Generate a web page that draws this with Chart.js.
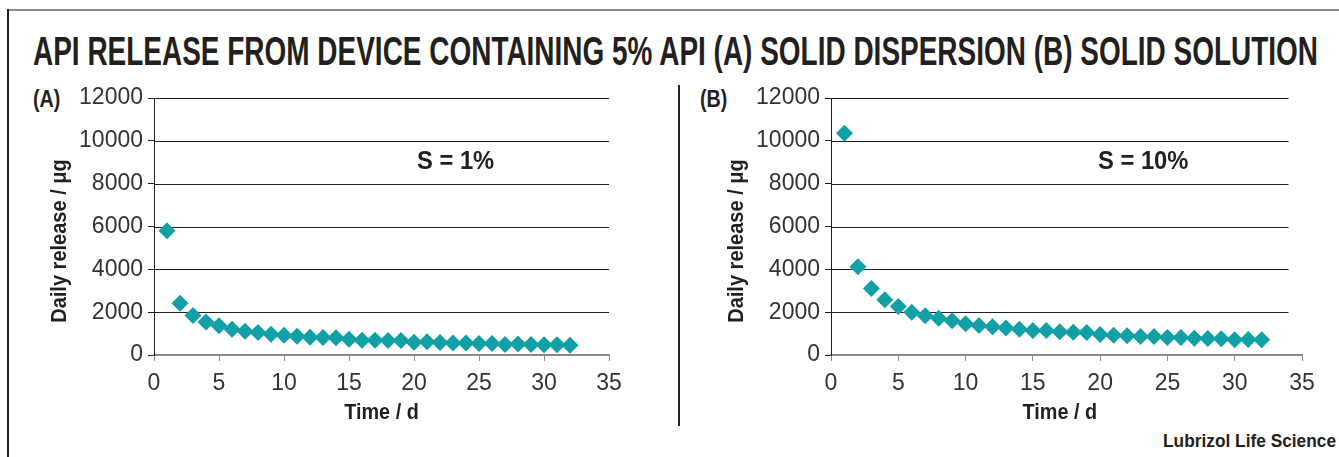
<!DOCTYPE html>
<html>
<head>
<meta charset="utf-8">
<script src="https://cdn.jsdelivr.net/npm/chart.js@4/dist/chart.umd.min.js"></script>
<style>
  html, body { margin: 0; padding: 0; background: #fff; }
  body { width: 1339px; height: 457px; position: relative; overflow: hidden; }
  .frameTop { position: absolute; left: 7px; top: 9px; width: 1332px; height: 0; border-top: 2px solid #8c8c8c; }
  .frameLeft { position: absolute; left: 7px; top: 9px; width: 0; height: 448px; border-left: 2px solid #222; }
  .divider { position: absolute; left: 678px; top: 85px; width: 0; height: 341px; border-left: 2px solid #222; }
  .title { position: absolute; left: 33px; top: 31px; font: bold 41px "Liberation Sans", Arial, sans-serif; line-height: 1; color: #231f20; white-space: nowrap; transform-origin: 0 0; }
  .panel { position: absolute; top: 87px; font: bold 24px "Liberation Sans", Arial, sans-serif; line-height: 1; color: #231f20; transform-origin: 0 0; transform: scaleX(0.82); }
  .credit { position: absolute; right: 3px; top: 431px; font: bold 19px "Liberation Sans", Arial, sans-serif; line-height: 1; color: #231f20; white-space: nowrap; transform-origin: 100% 0; }
  canvas { position: absolute; top: 0; }
</style>
</head>
<body>
<div class="frameTop"></div>
<div class="frameLeft"></div>
<div class="divider"></div>
<div class="title" id="title">API RELEASE FROM DEVICE CONTAINING 5% API (A) SOLID DISPERSION (B) SOLID SOLUTION</div>
<div class="panel" style="left:33px">(A)</div>
<div class="panel" style="left:700px">(B)</div>
<div class="credit" id="credit">Lubrizol Life Science</div>
<canvas id="chartA" width="670" height="457" style="left:0px"></canvas>
<canvas id="chartB" width="669" height="457" style="left:670px"></canvas>
<script>
// ---- data ----
const days = [1,2,3,4,5,6,7,8,9,10,11,12,13,14,15,16,17,18,19,20,21,22,23,24,25,26,27,28,29,30,31,32];
const releaseA = [5800,2420,1850,1540,1360,1200,1110,1050,970,920,880,830,815,800,740,690,690,680,680,600,615,585,555,555,540,540,490,510,490,480,480,460];
const releaseB = [10350,4120,3110,2580,2260,2000,1830,1720,1600,1460,1380,1320,1260,1200,1140,1140,1090,1060,1045,955,920,895,860,860,815,815,785,770,755,710,725,710];
const xTicks = [0,5,10,15,20,25,30,35];
const yTicks = [0,2000,4000,6000,8000,10000,12000];
const labelA = "S = 1%";
const labelB = "S = 10%";
const xTitle = "Time / d";
const yTitle = "Daily release / \u03bcg";

// fit html texts to the reference widths
function fitWidth(id, target) {
  const t = document.getElementById(id);
  const w = t.getBoundingClientRect().width;
  t.style.transform = 'scaleX(' + (target / w) + ')';
}
fitWidth('title', 1285);
fitWidth('credit', 173);

const TEAL = '#12a0a7';
const boldFont = '"Liberation Sans", Arial, sans-serif';
const regular = '"Liberation Sans", Arial, sans-serif';

const gridPlugin = {
  id: 'customGrid',
  beforeDatasetsDraw(chart, args, opts) {
    const {ctx, chartArea, scales} = chart;
    const y = scales.y, x = scales.x;
    const xEnd = x.getPixelForValue(opts.gridEnd);
    ctx.save();
    ctx.strokeStyle = '#231f20';
    ctx.lineWidth = 1;
    yTicks.forEach(v => {
      if (v === 0) return;
      const py = Math.round(y.getPixelForValue(v)) + 0.5;
      ctx.beginPath();
      ctx.moveTo(chartArea.left, py);
      ctx.lineTo(xEnd, py);
      ctx.stroke();
    });
    ctx.restore();
  },
  afterDatasetsDraw(chart, args, opts) {
    const {ctx, chartArea, scales} = chart;
    const x = scales.x, y = scales.y;
    ctx.save();
    ctx.fillStyle = '#231f20';
    ctx.textAlign = 'center';
    ctx.textBaseline = 'middle';
    // in-plot label
    ctx.save();
    ctx.font = 'bold 25px ' + boldFont;
    ctx.translate(x.getPixelForValue(opts.tx), y.getPixelForValue(opts.ty));
    ctx.scale(0.95, 1);
    ctx.fillText(opts.text, 0, 0);
    ctx.restore();
    // x axis title, centred on the gridded span
    ctx.save();
    ctx.font = 'bold 22px ' + boldFont;
    const cx = (chartArea.left + x.getPixelForValue(opts.gridEnd)) / 2;
    ctx.translate(cx, opts.xTitleY);
    ctx.scale(0.9, 1);
    ctx.fillText(xTitle, 0, 0);
    ctx.restore();
    // y axis title
    ctx.save();
    ctx.font = 'bold 22px ' + boldFont;
    ctx.translate(opts.yTitleX, opts.yTitleY);
    ctx.rotate(-Math.PI / 2);
    ctx.scale(0.91, 1);
    ctx.fillText(yTitle, 0, 0);
    ctx.restore();
    ctx.restore();
  }
};

function makeChart(id, values, label, gridEnd, padLeft, padRight, yTitleX) {
  return new Chart(document.getElementById(id), {
    type: 'scatter',
    data: {
      datasets: [{
        data: days.map((d, i) => ({x: d, y: values[i]})),
        pointStyle: 'rectRot',
        pointRadius: 8.5,
        pointHoverRadius: 8.5,
        backgroundColor: TEAL,
        borderColor: TEAL,
        borderWidth: 0,
        showLine: false
      }]
    },
    options: {
      responsive: false,
      animation: false,
      events: [],
      layout: { padding: { left: padLeft, top: 98, right: padRight, bottom: 0 } },
      plugins: {
        legend: { display: false },
        tooltip: { enabled: false },
        title: { display: false },
        customGrid: { gridEnd: gridEnd, text: label, tx: 23.2, ty: 9000, xTitleY: 413, yTitleX: yTitleX, yTitleY: 241 }
      },
      scales: {
        x: {
          type: 'linear',
          min: 0, max: 35,
          afterBuildTicks: s => { s.ticks = xTicks.map(v => ({value: v})); },
          afterFit: s => { s.height = 102; },
          grid: { drawOnChartArea: false, drawTicks: true, tickLength: 6, color: '#8a8a8a', lineWidth: 1 },
          border: { display: true, color: '#8a8a8a', width: 2 },
          ticks: { font: { family: regular, size: 23 }, color: '#333', padding: 9, maxRotation: 0 },
          title: { display: false }
        },
        y: {
          type: 'linear',
          min: 0, max: 12000,
          afterBuildTicks: s => { s.ticks = yTicks.map(v => ({value: v})); },
          afterFit: s => { s.width = 110; },
          grid: { drawOnChartArea: false, drawTicks: true, tickLength: 6, color: '#231f20', lineWidth: 1 },
          border: { display: true, color: '#231f20', width: 1 },
          ticks: { font: { family: regular, size: 23 }, color: '#333', padding: 5, callback: v => String(v) },
          title: { display: false }
        }
      }
    },
    plugins: [gridPlugin]
  });
}

makeChart('chartA', releaseA, labelA, 35, 44, 61, 60);
makeChart('chartB', releaseB, labelB, 34, 51, 37, 67);
</script>
</body>
</html>
